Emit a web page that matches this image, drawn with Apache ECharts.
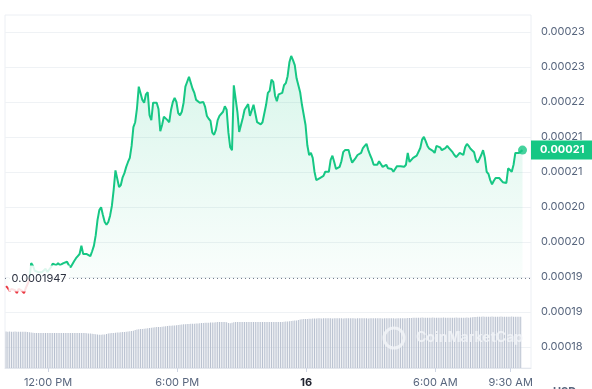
<!DOCTYPE html>
<html>
<head>
<meta charset="utf-8">
<script src="https://cdn.jsdelivr.net/npm/echarts@6/dist/echarts.min.js"></script>
<style>
html,body{margin:0;padding:0;background:#fff;}
#chart{width:592px;height:389px;}
</style>
</head>
<body>
<div id="chart"></div>
<script>
// ---- data ----
const baseline = 0.0001947;
// price, 5-minute points
const prices = [
0.0001936,0.0001933,0.0001929,0.0001932,0.0001933,0.0001930,0.0001926,0.0001932,0.0001932,0.0001929,
0.0001926,0.0001933,0.0001939,0.0001945,0.0001969,0.0001965,0.0001958,0.0001956,0.0001956,0.0001956,
0.0001956,0.0001958,0.0001961,0.0001956,0.0001956,0.0001963,0.0001968,0.0001968,0.0001966,0.0001969,
0.0001966,0.0001965,0.0001969,0.0001971,0.0001971,0.0001966,0.0001963,0.0001965,0.0001972,0.0001976,
0.0001979,0.0001982,0.0001994,0.0001982,0.0001983,0.0001982,0.0001981,0.0001979,0.0001986,0.0001994,
0.0002009,0.0002031,0.0002045,0.0002049,0.0002038,0.0002028,0.0002024,0.0002028,0.0002037,0.0002051,
0.0002074,0.0002102,0.0002102,0.0002078,0.0002081,0.0002092,0.0002098,0.0002107,0.0002114,0.0002120,
0.0002137,0.0002164,0.0002171,0.0002191,0.0002222,0.0002220,0.0002203,0.0002199,0.0002211,0.0002214,
0.0002181,0.0002174,0.0002199,0.0002200,0.0002199,0.0002190,0.0002158,0.0002167,0.0002179,0.0002181,
0.0002174,0.0002171,0.0002189,0.0002200,0.0002206,0.0002200,0.0002184,0.0002181,0.0002186,0.0002199,
0.0002222,0.0002229,0.0002236,0.0002234,0.0002219,0.0002213,0.0002203,0.0002204,0.0002199,0.0002199,
0.0002200,0.0002193,0.0002180,0.0002176,0.0002173,0.0002156,0.0002153,0.0002160,0.0002174,0.0002180,
0.0002181,0.0002186,0.0002194,0.0002189,0.0002156,0.0002135,0.0002131,0.0002224,0.0002224,0.0002186,
0.0002157,0.0002157,0.0002177,0.0002189,0.0002190,0.0002197,0.0002180,0.0002181,0.0002196,0.0002197,
0.0002171,0.0002170,0.0002168,0.0002171,0.0002173,0.0002196,0.0002213,0.0002216,0.0002232,0.0002229,
0.0002209,0.0002201,0.0002211,0.0002213,0.0002213,0.0002224,0.0002227,0.0002237,0.0002257,0.0002266,
0.0002260,0.0002253,0.0002234,0.0002234,0.0002214,0.0002196,0.0002197,0.0002167,0.0002138,0.0002124,
0.0002127,0.0002120,0.0002100,0.0002088,0.0002088,0.0002091,0.0002090,0.0002094,0.0002100,0.0002100,
0.0002100,0.0002117,0.0002123,0.0002114,0.0002104,0.0002102,0.0002107,0.0002115,0.0002128,0.0002131,
0.0002131,0.0002131,0.0002121,0.0002113,0.0002115,0.0002120,0.0002124,0.0002123,0.0002127,0.0002134,
0.0002137,0.0002140,0.0002131,0.0002124,0.0002118,0.0002110,0.0002111,0.0002110,0.0002115,0.0002117,
0.0002107,0.0002105,0.0002110,0.0002105,0.0002104,0.0002104,0.0002100,0.0002100,0.0002108,0.0002108,
0.0002108,0.0002108,0.0002107,0.0002110,0.0002127,0.0002114,0.0002115,0.0002120,0.0002121,0.0002123,
0.0002125,0.0002134,0.0002146,0.0002150,0.0002144,0.0002137,0.0002133,0.0002135,0.0002130,0.0002127,
0.0002137,0.0002135,0.0002135,0.0002131,0.0002133,0.0002134,0.0002137,0.0002134,0.0002133,0.0002128,
0.0002124,0.0002121,0.0002123,0.0002127,0.0002127,0.0002124,0.0002135,0.0002140,0.0002137,0.0002133,
0.0002131,0.0002128,0.0002117,0.0002113,0.0002113,0.0002124,0.0002131,0.0002120,0.0002100,0.0002097,
0.0002088,0.0002082,0.0002087,0.0002091,0.0002092,0.0002091,0.0002090,0.0002085,0.0002085,0.0002084,
0.0002105,0.0002104,0.0002100,0.0002110,0.0002127,0.0002127,0.0002127,0.0002128,0.0002131
];
// volume (millions USD), 5-minute bars
const volumes = [
3.64,3.63,3.64,3.63,3.63,3.64,3.63,3.63,3.62,3.63,3.63,3.62,3.60,3.58,3.55,3.52,3.51,3.50,
3.50,3.49,3.50,3.50,3.49,3.50,3.50,3.50,3.49,3.50,
3.50,3.50,3.49,3.50,3.50,3.49,3.50,3.50,3.50,3.49,
3.50,3.50,3.50,3.49,3.50,3.50,3.50,3.48,3.46,3.44,
3.42,3.40,3.38,
3.35,3.33,3.33,3.34,3.36,3.40,3.44,
3.47,3.49,3.50,3.52,3.54,3.56,
3.58,3.60,3.61,3.62,3.64,3.67,
3.70,3.73,
3.80,3.84,3.87,3.90,3.91,3.93,3.95,3.97,4.00,
4.03,4.05,4.07,4.09,4.10,4.11,4.13,4.15,4.18,
4.20,4.22,4.23,4.24,4.25,4.27,4.29,4.32,
4.35,4.37,4.38,4.40,
4.41,4.42,4.42,4.43,4.44,4.46,4.48,
4.50,4.51,4.52,4.53,4.53,4.54,4.55,4.56,4.58,
4.60,4.60,4.61,4.60,4.60,4.58,
4.50,4.47,4.52,
4.58,4.60,4.60,4.61,4.60,4.60,4.61,4.60,4.60,4.60,
4.61,4.60,4.60,4.60,4.61,4.60,4.60,4.61,4.60,4.60,
4.60,4.61,4.60,4.60,4.60,4.61,4.60,4.60,4.62,4.64,
4.66,4.68,4.70,4.72,
4.74,4.76,4.80,4.84,
4.87,4.89,4.90,4.91,4.92,4.93,4.94,4.95,4.96,
4.97,4.97,4.96,4.97,4.97,4.98,4.97,4.97,4.96,4.97,
4.97,4.97,4.98,4.97,4.96,4.97,4.97,4.97,4.97,4.98,
4.97,4.96,4.97,4.97,4.97,4.98,4.97,4.97,4.96,4.97,
4.97,4.97,4.97,4.98,4.97,4.97,4.96,4.97,4.97,4.97,
4.98,4.97,4.97,4.96,4.97,4.97,4.98,4.97,4.97,4.98,
4.99,5.00,5.01,5.02,
5.03,5.03,5.02,5.03,5.04,5.03,5.03,5.02,5.03,5.03,
5.04,5.03,5.03,5.03,5.02,5.03,5.04,5.03,5.03,5.03,
5.02,5.03,5.03,5.04,5.03,5.03,5.02,5.03,5.03,5.04,
5.03,5.05,5.07,5.09,5.11,5.12,5.13,
5.13,5.14,5.13,5.13,5.12,5.13,5.14,5.13,5.13,5.12,
5.13,5.14,5.13,5.13,5.13,5.12,5.13,5.14,5.13,5.13,
5.12,5.13,5.13
];
// y tick values (labels shown rounded to 5 decimals)
const yTicks = [0.00018486,0.00018988,0.0001949,0.00019992,0.00020494,0.00020996,0.00021498,0.00022,0.00022502,0.00023004];
const yRange = [0.000181856, 0.000232476];
// x ticks: [day, hour, minute]
const xTickParts = [[15,12,0],[15,18,0],[16,0,0],[16,6,0],[16,9,30]];
const startParts = [15,10,3];
const xRangeParts = [[15,10,0],[16,10,26,40]];
const priceStepMin = 5, volStepMin = 5;

// ---- build ----
const mk = (d,h,m,s) => new Date(2024,4,d,h,m,s||0).getTime();
const startTime = mk(...startParts);
const xMin = mk(...xRangeParts[0]), xMax = mk(...xRangeParts[1]);
const xTicks = xTickParts.map(p => mk(...p));
const priceData = prices.map((p,i) => [startTime + i*priceStepMin*60000, p]);
const volData = volumes.map((v,j) => [startTime + j*volStepMin*60000, v]);
const last = priceData[priceData.length-1];

function fmtTime(v){
  const d = new Date(v), h = d.getHours(), m = d.getMinutes();
  if (h === 0 && m === 0) return '{d|' + d.getDate() + '}';
  const hh = h % 12 === 0 ? 12 : h % 12;
  return hh + ':' + String(m).padStart(2,'0') + ' ' + (h < 12 ? 'AM' : 'PM');
}

const chart = echarts.init(document.getElementById('chart'), null, {renderer:'canvas'});
chart.setOption({
  animation:false,
  backgroundColor:'#ffffff',
  textStyle:{fontFamily:'Inter'},
  grid:[
    {left:5,right:61,top:15,bottom:21,show:true,borderColor:'#eceff4',borderWidth:1,backgroundColor:'rgba(0,0,0,0)',outerBoundsMode:'none',containLabel:false},
    {left:5,right:61,top:300,bottom:21,outerBoundsMode:'none',containLabel:false}
  ],
  visualMap:{show:false,seriesIndex:0,dimension:1,
    pieces:[{gte:0,lt:baseline,color:'#ea3943'},{gte:baseline,lte:1,color:'#16c784'}]},
  xAxis:[
    {type:'value',gridIndex:0,min:xMin,max:xMax,show:false},
    {type:'value',gridIndex:1,min:xMin,max:xMax,
      axisLine:{show:true,lineStyle:{color:'#e3e7ed'}},
      axisTick:{show:true,customValues:xTicks,length:4,lineStyle:{color:'#cfd6e4'}},
      splitLine:{show:false},
      axisLabel:{customValues:xTicks,formatter:fmtTime,color:'#58667e',fontSize:11,margin:9,
        rich:{d:{fontWeight:'bold',color:'#222531',fontSize:11}}}
    }
  ],
  yAxis:[
    {type:'value',gridIndex:0,position:'right',min:yRange[0],max:yRange[1],
      axisLine:{show:false},axisTick:{show:false,customValues:yTicks},
      axisLabel:{customValues:yTicks,formatter:v=>v.toFixed(5),color:'#58667e',fontSize:11,margin:10},
      splitLine:{show:true,lineStyle:{color:'#eff2f5',width:1}}
    },
    {type:'value',gridIndex:0,position:'right',min:yRange[0],max:yRange[1],z:20,
      axisLine:{show:false},axisTick:{show:false,customValues:[last[1]]},splitLine:{show:false},
      axisLabel:{customValues:[last[1]],formatter:v=>v.toFixed(5),color:'#ffffff',fontWeight:'bold',fontSize:11,
        backgroundColor:'#16c784',padding:[4,10,4,9],margin:0,lineHeight:11}
    },
    {type:'value',gridIndex:1,min:0,max:6.8,show:false}
  ],
  graphic:[
    {type:'circle',shape:{cx:394,cy:338,r:10},style:{fill:'rgba(0,0,0,0)',stroke:'rgba(242,244,248,0.85)',lineWidth:3},z:100},
    {type:'text',x:416,y:338,style:{text:'CoinMarketCap',fill:'rgba(242,244,248,0.85)',font:'bold 14px Inter',verticalAlign:'middle'},z:100},
    {type:'text',x:553,y:386,style:{text:'USD',fill:'#58667e',font:'bold 11px Inter'},z:100}
  ],
  series:[
    {type:'line',xAxisIndex:0,yAxisIndex:0,data:priceData,symbol:'none',showSymbol:false,z:3,
      lineStyle:{width:2},
      areaStyle:{origin:baseline,color:new echarts.graphic.LinearGradient(0,0,0,1,[
        {offset:0,color:'rgba(22,199,132,0.24)'},{offset:1,color:'rgba(22,199,132,0.02)'}])},
      markPoint:{silent:true,data:[{coord:[startTime,baseline],symbol:'rect',symbolSize:1,
        itemStyle:{color:'rgba(0,0,0,0)'},
        label:{show:true,position:'right',distance:2,formatter:()=>String(baseline),color:'#2c3140',fontSize:11,
          backgroundColor:'rgba(255,255,255,0.85)',padding:[7,3,8,3]}}]}
    },
    {type:'line',xAxisIndex:0,yAxisIndex:0,data:[[xMin,baseline],[xMax,baseline]],symbol:'none',silent:true,z:2,
      lineStyle:{type:[1,3],color:'#6b7385',width:1}},
    {type:'scatter',xAxisIndex:0,yAxisIndex:0,data:[last],symbolSize:9,itemStyle:{color:'#16c784'},z:5},
    {type:'bar',xAxisIndex:1,yAxisIndex:2,data:volData,barWidth:1,itemStyle:{color:'#b8c0cf'},z:1}
  ]
});
</script>
</body>
</html>
